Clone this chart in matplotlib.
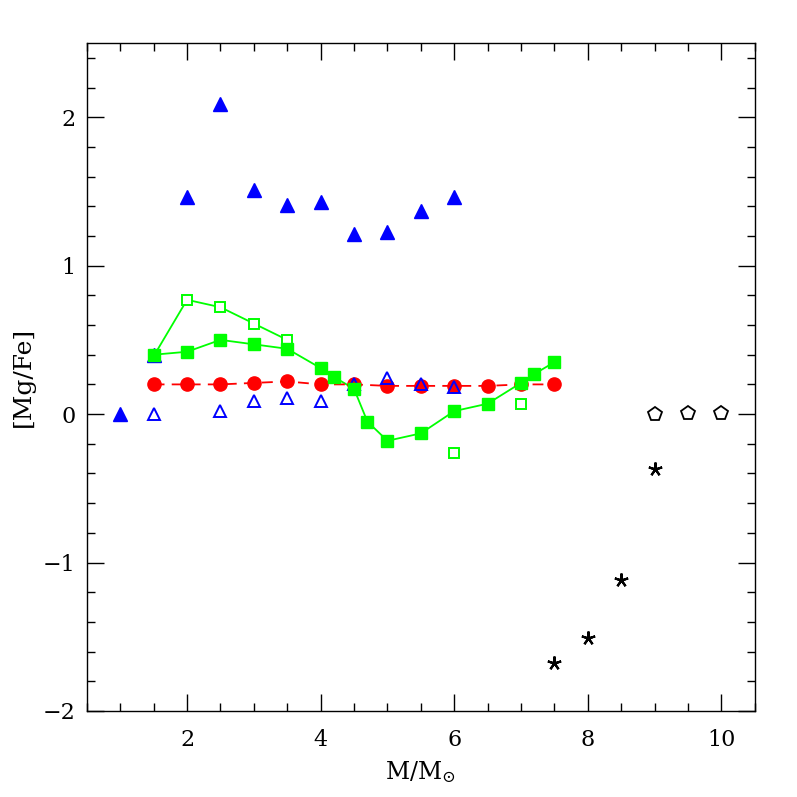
import matplotlib
matplotlib.use("Agg")
import matplotlib.pyplot as plt
from matplotlib.ticker import MultipleLocator

plt.rcParams['font.family'] = ['DejaVu Serif']
plt.rcParams['mathtext.fontset'] = 'dejavuserif'

# --- datos ---
masa_tri_llenos = [1.0, 1.5, 2.0, 2.5, 3.0, 3.5, 4.0, 4.5, 5.0, 5.5, 6.0]
mgfe_tri_llenos = [0.0, 0.40, 1.46, 2.09, 1.51, 1.41, 1.43, 1.21, 1.23, 1.37, 1.46]

masa_tri_vacios = [1.5, 2.5, 3.0, 3.5, 4.0, 4.5, 5.0, 5.5, 6.0]
mgfe_tri_vacios = [0.0, 0.02, 0.09, 0.11, 0.09, 0.20, 0.24, 0.20, 0.18]

masa_circulos = [1.5, 2.0, 2.5, 3.0, 3.5, 4.0, 4.5, 5.0, 5.5, 6.0, 6.5, 7.0, 7.5]
mgfe_circulos = [0.20, 0.20, 0.20, 0.21, 0.22, 0.20, 0.20, 0.19, 0.19, 0.19, 0.19, 0.20, 0.20]

masa_cuad_llenos = [1.5, 2.0, 2.5, 3.0, 3.5, 4.0, 4.2, 4.5, 4.7, 5.0, 5.5, 6.0, 6.5, 7.0, 7.2, 7.5]
mgfe_cuad_llenos = [0.40, 0.42, 0.50, 0.47, 0.44, 0.31, 0.25, 0.17, -0.05, -0.18, -0.13, 0.02, 0.07, 0.21, 0.27, 0.35]

masa_cuad_vacios = [1.5, 2.0, 2.5, 3.0, 3.5]
mgfe_cuad_vacios = [0.39, 0.77, 0.72, 0.61, 0.50]

masa_cuad_sueltos = [6.0, 7.0]
mgfe_cuad_sueltos = [-0.26, 0.07]

masa_pentagonos = [9.0, 9.5, 10.0]
mgfe_pentagonos = [0.0, 0.01, 0.01]

masa_estrellas = [7.5, 8.0, 8.5, 9.0]
mgfe_estrellas = [-1.68, -1.51, -1.12, -0.37]

azul = '#0000ff'
verde = '#00ff00'
rojo = '#ff0000'

fig = plt.figure(figsize=(7.97, 7.97), dpi=100)
ax = fig.add_axes([0.109, 0.108, 0.838, 0.838])

# Lineas primero
ax.plot(masa_cuad_vacios, mgfe_cuad_vacios, '-', color=verde, lw=1.3, zorder=2)
ax.plot(masa_cuad_llenos, mgfe_cuad_llenos, '-', color=verde, lw=1.3, zorder=2)
ax.plot(masa_circulos, mgfe_circulos, '--', color=rojo, lw=1.3, dashes=(6, 4), zorder=2)

# Marcadores
ax.plot(masa_tri_llenos, mgfe_tri_llenos, '^', color=azul, ms=10, ls='none', zorder=3)
ax.plot(masa_circulos, mgfe_circulos, 'o', color=rojo, ms=9.5, ls='none', zorder=3)
ax.plot(masa_tri_vacios, mgfe_tri_vacios, '^', mfc='none', mec=azul, mew=1.4, ms=9, ls='none', zorder=4)
ax.plot(masa_cuad_vacios, mgfe_cuad_vacios, 's', mfc='white', mec=verde, mew=1.4, ms=7.5, ls='none', zorder=4)
ax.plot(masa_cuad_llenos, mgfe_cuad_llenos, 's', color=verde, ms=8.5, ls='none', zorder=5)
ax.plot(masa_cuad_sueltos, mgfe_cuad_sueltos, 's', mfc='none', mec=verde, mew=1.4, ms=7.5, ls='none', zorder=4)
ax.plot(masa_pentagonos, mgfe_pentagonos, 'p', mfc='none', mec='black', mew=1.3, ms=10, ls='none', zorder=4)
ax.plot(masa_estrellas, mgfe_estrellas, ls='none', marker=(5, 2, 0), mec='black', mew=1.6, ms=10, zorder=4)

ax.set_xlim(0.5, 10.5)
ax.set_ylim(-2, 2.5)

ax.xaxis.set_major_locator(MultipleLocator(2))
ax.xaxis.set_minor_locator(MultipleLocator(0.5))
ax.yaxis.set_major_locator(MultipleLocator(1))
ax.yaxis.set_minor_locator(MultipleLocator(0.2))

ax.tick_params(which='both', direction='in', top=True, right=True, width=1.0, labelsize=16)
ax.tick_params(axis='x', which='major', pad=13)
ax.tick_params(axis='y', which='major', pad=8)
ax.tick_params(which='major', length=12)
ax.tick_params(which='minor', length=6)
for s in ax.spines.values():
    s.set_linewidth(1.0)

ax.set_xlabel(r'M/M$_{\odot}$', fontsize=17, labelpad=6)
ax.set_ylabel('[Mg/Fe]', fontsize=18, labelpad=6)

fig.savefig('out.png', dpi=100)
